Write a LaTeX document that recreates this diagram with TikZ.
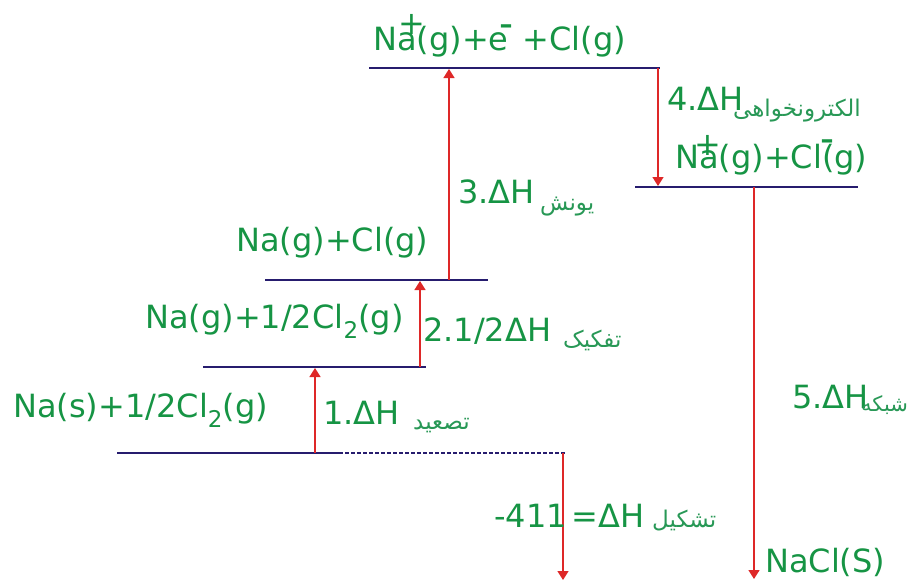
\documentclass[tikz,border=0pt]{standalone}
\usepackage{fontspec}
\setmainfont{DejaVu Sans}
\newfontfamily\arabicfont[Script=Arabic]{DejaVu Sans}
\TeXXeTstate=1
\usetikzlibrary{arrows.meta}
\definecolor{txtgreen}{RGB}{22,148,68}
\definecolor{fagreen}{RGB}{40,152,86}
\definecolor{navy}{RGB}{38,28,110}
\definecolor{arrred}{RGB}{222,40,40}
\newcommand{\subtwo}{\raisebox{-0.32em}{\fontsize{23}{26}\selectfont 2}}
\begin{document}
\begin{tikzpicture}[x=1pt,y=-1pt,
  level/.style={draw=navy,line width=2pt},
  dashlevel/.style={draw=navy,line width=1.3pt,dash pattern=on 4pt off 2pt},
  rarrow/.style={draw=arrred,line width=1.4pt,-{Triangle[width=11pt,length=9pt]}},
  lbl/.style={text=txtgreen,inner sep=0pt,anchor=west,font=\fontsize{32}{36}\selectfont},
  sign/.style={text=txtgreen,inner sep=0pt,font=\fontsize{32}{36}\selectfont},
  msign/.style={text=txtgreen,inner sep=0pt,font=\fontsize{26}{30}\selectfont\bfseries},
  fa/.style={text=fagreen,inner sep=0pt,anchor=west,font=\fontsize{23}{26}\selectfont\arabicfont}]
\useasboundingbox (0,0) rectangle (909,581);
% levels
\coordinate (L1a) at (369,68);  \coordinate (L1b) at (660,68);
\coordinate (L2a) at (635,187); \coordinate (L2b) at (858,187);
\coordinate (L3a) at (265,280); \coordinate (L3b) at (488,280);
\coordinate (L4a) at (203,367); \coordinate (L4b) at (426,367);
\coordinate (L5a) at (117,453); \coordinate (L5b) at (342,453);
\coordinate (L5c) at (565,453);
\draw[level] (L1a) -- (L1b);
\draw[level] (L2a) -- (L2b);
\draw[level] (L3a) -- (L3b);
\draw[level] (L4a) -- (L4b);
\draw[dashlevel] (L5a) -- (L5c);
\draw[level] (L5a) -- (L5b);
% arrows
\coordinate (A1s) at (315,453); \coordinate (A1e) at (315,368);
\coordinate (A2s) at (420,367); \coordinate (A2e) at (420,281);
\coordinate (A3s) at (449,280); \coordinate (A3e) at (449,69);
\coordinate (A4s) at (658,68);  \coordinate (A4e) at (658,186);
\coordinate (A5s) at (754,187); \coordinate (A5e) at (754,579);
\coordinate (A6s) at (563,453); \coordinate (A6e) at (563,580);
\draw[rarrow] (A1s) -- (A1e);
\draw[rarrow] (A2s) -- (A2e);
\draw[rarrow] (A3s) -- (A3e);
\draw[rarrow] (A4s) -- (A4e);
\draw[rarrow] (A5s) -- (A5e);
\draw[rarrow] (A6s) -- (A6e);
% texts
\node[lbl] (t1) at (373,42) {Na(g)+e\hspace{14pt}+Cl(g)};
\node[sign] (t1p) at (412,24) {+};
\node[msign] (t1m) at (506,29) {–};
\node[lbl] (t2) at (667,99) {4.ΔH};
\node[fa] (t2f) at (733,111) {\beginR الکترونخواهی\endR};
\node[lbl] (t3) at (675,160) {Na(g)+Cl(g)};
\node[sign] (t3p) at (708,145) {+};
\node[msign] (t3m) at (827,144) {–};
\node[lbl] (t4) at (458,192) {3.ΔH};
\node[fa] (t4f) at (540,207) {\beginR یونش\endR};
\node[lbl] (t5) at (236,243) {Na(g)+Cl(g)};
\node[lbl] (t6) at (145,321) {Na(g)+1/2Cl\subtwo(g)};
\node[lbl] (t7) at (423,331) {2.1/2ΔH};
\node[fa] (t7f) at (563,340) {\beginR تفکیک\endR};
\node[lbl] (t8) at (13,410) {Na(s)+1/2Cl\subtwo(g)};
\node[lbl] (t9) at (323,413) {1.ΔH};
\node[fa] (t9f) at (413,426) {\beginR تصعید\endR};
\node[lbl] (t10) at (792,397) {5.ΔH};
\node[fa,font=\fontsize{21}{24}\selectfont\arabicfont] (t10f) at (861,405) {\beginR شبکه\endR};
\node[lbl] (t11) at (494,516) {-411\hspace{5pt}=ΔH};
\node[fa] (t11f) at (652,521) {\beginR تشکیل\endR};
\node[lbl] (t12) at (765,562) {NaCl(S)};
\end{tikzpicture}
\end{document}
